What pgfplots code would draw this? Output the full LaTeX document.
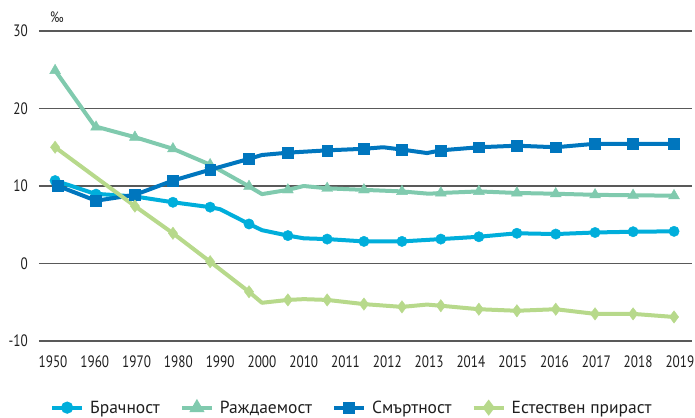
\documentclass[border=0pt]{standalone}
\usepackage{fontspec}
\setmainfont{PT Sans}
\newfontfamily\condfont[FakeStretch=0.8]{PT Sans}
\usepackage{pgfplots}
\pgfplotsset{compat=1.18}
\usepackage{pgfplotstable}
\definecolor{cBr}{HTML}{00AEDB}
\definecolor{cRa}{HTML}{80CAAE}
\definecolor{cSm}{HTML}{0076BE}
\definecolor{cEs}{HTML}{B7D98B}

% lines (x = position in category units)
\pgfplotstableread{
x y
0.05 10.7
1.0 9.0
1.96 8.65
2.87 7.9
3.76 7.27
4.0 7.0
4.69 5.1
5.0 4.3
5.62 3.6
6.0 3.25
6.56 3.15
7.44 2.85
8.35 2.85
9.28 3.15
10.19 3.45
11.10 3.9
12.03 3.8
12.97 4.0
13.88 4.1
14.86 4.15
}\brL
\pgfplotstableread{
x y
0.05 10.7
1.03 8.95
1.96 8.65
2.87 7.9
3.76 7.27
4.69 5.1
5.62 3.6
6.56 3.15
7.44 2.85
8.35 2.85
9.28 3.15
10.19 3.45
11.10 3.9
12.03 3.8
12.97 4.0
13.88 4.1
14.86 4.15
}\brM
\pgfplotstableread{
x y
0.05 24.9
1.0 17.7
1.96 16.3
2.87 14.8
3.76 12.75
4.69 9.95
5.0 8.95
5.62 9.5
6.0 10.0
6.56 9.7
7.44 9.5
8.35 9.3
9.0 9.0
9.28 9.1
10.19 9.3
11.10 9.1
12.03 9.0
12.97 8.86
13.88 8.8
14.86 8.75
}\raL
\pgfplotstableread{
x y
0.05 24.9
1.03 17.6
1.96 16.3
2.87 14.8
3.76 12.75
4.69 9.95
5.62 9.5
6.56 9.7
7.44 9.5
8.35 9.3
9.28 9.1
10.19 9.3
11.10 9.1
12.03 9.0
12.97 8.86
13.88 8.8
14.86 8.75
}\raM
\pgfplotstableread{
x y
0.12 10.0
1.03 8.1
1.96 8.86
2.87 10.7
3.76 12.1
4.69 13.5
5.0 14.0
5.62 14.3
6.56 14.6
7.44 14.8
7.9 15.0
8.35 14.7
8.95 14.25
9.28 14.6
10.19 15.0
11.10 15.2
12.03 15.0
12.97 15.45
13.88 15.45
14.86 15.45
}\smL
\pgfplotstableread{
x y
0.12 10.0
1.03 8.1
1.96 8.86
2.87 10.7
3.76 12.1
4.69 13.5
5.62 14.3
6.56 14.6
7.44 14.8
8.35 14.7
9.28 14.6
10.19 15.0
11.10 15.2
12.03 15.0
12.97 15.45
13.88 15.45
14.86 15.45
}\smM
\pgfplotstableread{
x y
0.05 15.0
1.96 7.4
2.87 3.9
3.76 0.23
4.69 -3.65
5.0 -5.07
5.62 -4.7
6.0 -4.6
6.56 -4.7
7.44 -5.24
8.35 -5.6
8.95 -5.3
9.28 -5.45
10.19 -5.9
11.10 -6.1
12.03 -5.9
12.97 -6.5
13.88 -6.5
14.86 -6.9
}\esL
\pgfplotstableread{
x y
0.05 15.0
1.96 7.4
2.87 3.9
3.76 0.23
4.69 -3.65
5.62 -4.7
6.56 -4.7
7.44 -5.24
8.35 -5.6
9.28 -5.45
10.19 -5.9
11.10 -6.1
12.03 -5.9
12.97 -6.5
13.88 -6.5
14.86 -6.9
}\esM

\begin{document}
\begin{tikzpicture}
\begin{axis}[
  scale only axis, width=653pt, height=310pt,
  xmin=-0.335, xmax=15.29, ymin=-10, ymax=30,
  ytick={-10,0,10,20,30},
  xtick={0,...,15},
  xticklabels={1950,1960,1970,1980,1990,2000,2010,2011,2012,2013,2014,2015,2016,2017,2018,2019},
  axis line style={draw=none},
  major tick length=0pt,
  ymajorgrids, major grid style={black!65, line width=1.1pt},
  tick label style={font=\condfont\fontsize{16.5}{18}\selectfont, text=black!88},
  /pgf/number format/assume math mode=true,
  yticklabel style={anchor=east, inner sep=0pt, xshift=-11pt},
  xticklabel style={anchor=north, inner sep=0pt, yshift=-15pt},
  clip=false,
  legend columns=4,
  legend style={draw=none, fill=none, at={(0.0168,-0.215)}, anchor=west,
    font=\fontsize{17.5}{20}\selectfont, text=black!88,
    /tikz/every even column/.append style={column sep=20pt},
    inner sep=0pt, nodes={inner sep=0pt}},
  legend cell align=left,
  legend image code/.code={\draw[mark repeat=2,mark phase=2,#1] plot coordinates {(0pt,0pt) (15pt,0pt) (30pt,0pt)};},
  every axis legend/.append style={/tikz/every odd column/.append style={column sep=6pt}},
]
\addlegendimage{cBr, line width=4pt, mark=*, mark size=4pt}
\addlegendentry{Брачност}
\addlegendimage{cRa, line width=4pt, mark=triangle*, mark size=4.8pt}
\addlegendentry{Раждаемост}
\addlegendimage{cSm, line width=4pt, mark=square*, mark size=4pt}
\addlegendentry{Смъртност}
\addlegendimage{cEs, line width=4pt, mark=diamond*, mark size=4.8pt}
\addlegendentry{Естествен прираст}

\addplot[forget plot, cBr, line width=4pt, line join=round] table {\brL};
\addplot[forget plot, only marks, cBr, mark=*, mark size=5.2pt] table {\brM};
\addplot[forget plot, cRa, line width=4pt, line join=round] table {\raL};
\addplot[forget plot, only marks, cRa, mark=triangle*, mark size=6.3pt] table {\raM};
\addplot[forget plot, cSm, line width=4pt, line join=round] table {\smL};
\addplot[forget plot, only marks, cSm, mark=square*, mark size=5.4pt] table {\smM};
\addplot[forget plot, cEs, line width=4pt, line join=round] table {\esL};
\addplot[forget plot, only marks, cEs, mark=diamond*, mark size=6.2pt] table {\esM};
\end{axis}
\node[anchor=base west, inner sep=0pt, font=\condfont\fontsize{15}{17}\selectfont, text=black!88]
  at ([xshift=11pt,yshift=8pt]current axis.north west) {‰};
\pgfresetboundingbox
\path[use as bounding box] ([xshift=-39pt,yshift=-76pt]current axis.south west) rectangle ([xshift=3pt,yshift=31pt]current axis.north east);
\end{tikzpicture}
\end{document}
